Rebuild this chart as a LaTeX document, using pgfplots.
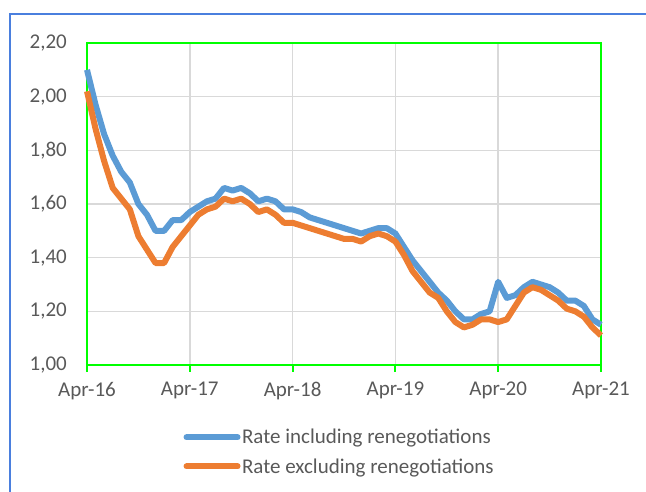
\documentclass[border=0pt]{standalone}
\usepackage{pgfplots}
\pgfplotsset{compat=1.18}
\usepackage{fontspec}
\setmainfont{Carlito}
\definecolor{sblue}{HTML}{5B9BD5}
\definecolor{sorange}{HTML}{ED7D31}
\definecolor{sgreen}{HTML}{00FF00}
\definecolor{sgrid}{HTML}{D9D9D9}
\definecolor{stext}{HTML}{595959}
\definecolor{sframe}{HTML}{4A7FDE}
\begin{document}
\begin{tikzpicture}[x=1pt,y=1pt]
\useasboundingbox (-87,-127) rectangle (559,365);
\draw[sframe, line width=2pt] (-77,-200) -- (-77,351) -- (800,351);
\begin{axis}[
  at={(0,0)}, anchor=south west,
  scale only axis, width=514pt, height=322pt,
  xmin=0, xmax=60, ymin=1, ymax=2.2,
  xtick={0,12,24,36,48,60},
  xticklabels={Apr-16,Apr-17,Apr-18,Apr-19,Apr-20,Apr-21},
  ytick={1,1.2,1.4,1.6,1.8,2.0,2.2},
  yticklabels={{1,00},{1,20},{1,40},{1,60},{1,80},{2,00},{2,20}},
  grid=major,
  major grid style={sgrid, line width=1.5pt},
  axis line style={sgreen, line width=2pt},
  x tick style={sgreen, line width=2pt},
  tick align=outside,
  major tick length=7pt,
  xtick pos=bottom,
  ytick pos=left,
  y tick style={draw=none},
  tick label style={font=\fontsize{21}{25}\selectfont, text=stext},
  yticklabel style={inner sep=0pt, xshift=-13pt},
  xticklabel style={inner sep=0pt, yshift=-10pt},
  legend style={at={(0.491,-0.27)}, anchor=center, draw=none, fill=none,
    font=\fontsize{21}{25}\selectfont, text=stext, row sep=10pt,
    nodes={inner sep=1.5pt}},
  legend cell align=left,
  legend image code/.code={\draw[#1, line cap=round] (0pt,0pt) -- (51pt,0pt);},
  clip=false,
]
\addplot[sblue, line width=6pt, line join=round] coordinates {
(0,2.10)(1,1.97)(2,1.86)(3,1.78)(4,1.72)(5,1.68)(6,1.60)(7,1.56)(8,1.50)(9,1.50)
(10,1.54)(11,1.54)(12,1.57)(13,1.59)(14,1.61)(15,1.62)(16,1.66)(17,1.65)(18,1.66)(19,1.64)
(20,1.61)(21,1.62)(22,1.61)(23,1.58)(24,1.58)(25,1.57)(26,1.55)(27,1.54)(28,1.53)(29,1.52)
(30,1.51)(31,1.50)(32,1.49)(33,1.50)(34,1.51)(35,1.51)(36,1.49)(37,1.44)(38,1.39)(39,1.35)
(40,1.31)(41,1.27)(42,1.24)(43,1.20)(44,1.17)(45,1.17)(46,1.19)(47,1.20)(48,1.31)(49,1.25)
(50,1.26)(51,1.29)(52,1.31)(53,1.30)(54,1.29)(55,1.27)(56,1.24)(57,1.24)(58,1.22)(59,1.17)
(60,1.15)};
\addlegendentry{Rate including renegotiations}
\addplot[sorange, line width=6pt, line join=round] coordinates {
(0,2.02)(1,1.88)(2,1.76)(3,1.66)(4,1.62)(5,1.58)(6,1.48)(7,1.43)(8,1.38)(9,1.38)
(10,1.44)(11,1.48)(12,1.52)(13,1.56)(14,1.58)(15,1.59)(16,1.62)(17,1.61)(18,1.62)(19,1.60)
(20,1.57)(21,1.58)(22,1.56)(23,1.53)(24,1.53)(25,1.52)(26,1.51)(27,1.50)(28,1.49)(29,1.48)
(30,1.47)(31,1.47)(32,1.46)(33,1.48)(34,1.49)(35,1.48)(36,1.46)(37,1.41)(38,1.35)(39,1.31)
(40,1.27)(41,1.25)(42,1.20)(43,1.16)(44,1.14)(45,1.15)(46,1.17)(47,1.17)(48,1.16)(49,1.17)
(50,1.22)(51,1.27)(52,1.29)(53,1.28)(54,1.26)(55,1.24)(56,1.21)(57,1.20)(58,1.18)(59,1.14)
(60,1.11)};
\addlegendentry{Rate excluding renegotiations}
\end{axis}
\end{tikzpicture}
\end{document}
